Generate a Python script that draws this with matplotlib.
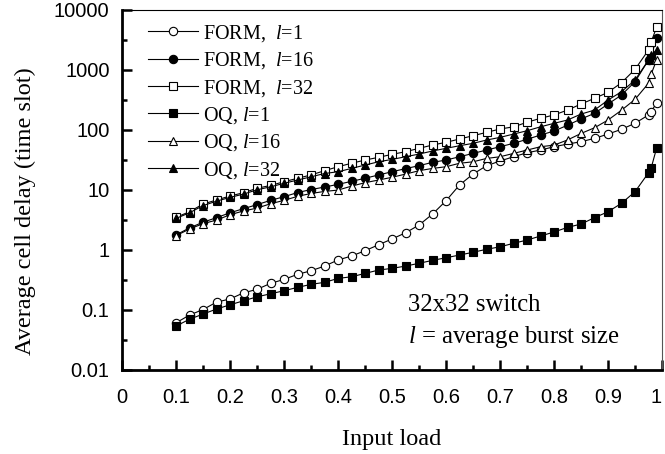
import numpy as np
import matplotlib
matplotlib.use("Agg")
import matplotlib.pyplot as plt
from matplotlib.ticker import FixedLocator, NullFormatter

plt.rcParams['font.family'] = ['Liberation Sans', 'DejaVu Sans']
plt.rcParams['mathtext.fontset'] = 'custom'
plt.rcParams['mathtext.rm'] = 'Liberation Serif'
plt.rcParams['mathtext.it'] = 'Liberation Serif:italic'

# input load values
load = [0.1, 0.125, 0.15, 0.175, 0.2, 0.225, 0.25, 0.275, 0.3, 0.325, 0.35, 0.375,
        0.4, 0.425, 0.45, 0.475, 0.5, 0.525, 0.55, 0.575, 0.6, 0.625, 0.65, 0.675,
        0.7, 0.725, 0.75, 0.775, 0.8, 0.825, 0.85, 0.875, 0.9, 0.925, 0.95,
        0.975, 0.98, 0.99]

form_l1 = [0.060, 0.081, 0.10, 0.133, 0.15, 0.19, 0.217, 0.273, 0.318, 0.386, 0.443, 0.53,
           0.67, 0.78, 0.955, 1.2, 1.5, 1.9, 2.56, 3.9, 6.5,
           11.9, 18.1, 24.9, 29.9, 35.2, 41, 45.5, 51.7, 57.3, 62.6, 71.3, 84, 101, 127,
           175, 198, 280]
form_l16 = [1.75, 2.3, 2.85, 3.4, 4.1, 4.8, 5.6, 6.6, 7.6, 8.9, 10.0, 11.0,
            12.2, 13.7, 15.4, 17.5, 19.8, 22.3, 25, 28.4, 31, 35.2, 40, 45.5,
            51.7, 58.9, 68.7, 81, 94.4, 118, 150, 186, 266, 376, 627,
            1440, 1680, 3310]
form_l32 = [3.44, 4.27, 5.73, 6.7, 7.8, 8.85, 10.5, 11.7, 13.5, 15.4, 17.5, 20.6,
            24, 27.4, 31, 34.4, 38.6, 42.7, 48.6, 55.2, 61.2, 69.5, 78.9, 89.7,
            102, 111, 132, 154, 175, 211, 266, 331, 417, 603, 1007,
            2113, 2904, 5047]
oq_l1 = [0.053, 0.069, 0.084, 0.102, 0.12, 0.14, 0.163, 0.183, 0.206, 0.234, 0.263, 0.284,
         0.33, 0.352, 0.40, 0.455, 0.486, 0.53, 0.59, 0.66, 0.73, 0.81, 0.90, 1.01,
         1.11, 1.27, 1.44, 1.68, 1.96, 2.34, 2.66, 3.4, 4.26, 5.9, 9.2,
         19, 23, 49]
oq_l16 = [1.7, 2.2, 2.7, 3.1, 3.8, 4.4, 4.9, 5.8, 6.6, 7.7, 8.6, 9.3,
          9.8, 11.4, 13, 14.4, 16, 18.1, 20.6, 22.5, 24, 27.4, 29, 33,
          35.2, 40, 45.5, 51.7, 55, 67, 86, 107, 144, 210, 318,
          590, 841, 1440]
oq_l32 = [3.3, 4.1, 5.4, 6.4, 7.4, 8.4, 9.9, 11.1, 12.7, 14.4, 16.3, 18.5,
          19.8, 22.5, 25.6, 29, 31.8, 35.2, 39, 43.9, 48.6, 53.7, 58.9, 66.8,
          74, 84, 95.5, 111, 127, 144, 181, 211, 310, 427, 668,
          1440, 1745, 2113]

series = [
    (form_l1, 'o', 'white', r'FORM,  $l$=1'),
    (form_l16, 'o', 'black', r'FORM,  $l$=16'),
    (form_l32, 's', 'white', r'FORM,  $l$=32'),
    (oq_l1, 's', 'black', r'OQ, $l$=1'),
    (oq_l16, '^', 'white', r'OQ, $l$=16'),
    (oq_l32, '^', 'black', r'OQ, $l$=32'),
]

fig = plt.figure(figsize=(6.65, 4.54), dpi=100)
ax = fig.add_axes([0.1835, 0.186, 0.812, 0.793])

for vals, mk, fc, lab in series:
    ax.plot(load, vals, color='black', lw=0.8, marker=mk, markersize=6,
            markerfacecolor=fc, markeredgecolor='black', markeredgewidth=0.8,
            label=lab)

ax.set_yscale('log')
ax.set_ylim(0.01, 10000)
ax.set_xlim(0, 1)

yt = [0.01, 0.1, 1, 10, 100, 1000, 10000]
ax.yaxis.set_major_locator(FixedLocator(yt))
ax.set_yticklabels(['0.01', '0.1', '1', '10', '100', '1000', '10000'])
ax.yaxis.set_minor_locator(FixedLocator([10 ** (k + 0.5) for k in range(-2, 4)]))
ax.yaxis.set_minor_formatter(NullFormatter())

ax.set_xticks(np.arange(0, 1.01, 0.1))
ax.set_xticklabels(['0', '0.1', '0.2', '0.3', '0.4', '0.5', '0.6', '0.7', '0.8', '0.9', '1'])
ax.xaxis.set_minor_locator(FixedLocator(np.arange(0.05, 1.0, 0.1)))

ax.tick_params(which='major', direction='in', length=7, width=1.8, labelsize=14.5)
ax.tick_params(which='minor', direction='in', length=3.5, width=1.8)
ax.tick_params(axis='x', pad=13)
ax.tick_params(axis='y', pad=9)
ax.get_xticklabels()[-1].set_horizontalalignment('right')

ax.spines['left'].set_linewidth(2)
ax.spines['bottom'].set_linewidth(2)
ax.spines['top'].set_linewidth(0.8)
ax.spines['right'].set_linewidth(0.8)
ax.spines['right'].set_color('#555555')

ax.set_ylabel('Average cell delay (time slot)', family='Liberation Serif',
              fontsize=17.5, labelpad=1)
ax.yaxis.set_label_coords(-0.16, 0.44)
ax.set_xlabel('Input load', family='Liberation Serif', fontsize=17.5, labelpad=16)

leg = ax.legend(loc='upper left', bbox_to_anchor=(0.033, 0.985), frameon=False,
                prop={'family': 'Liberation Serif', 'size': 14.5},
                handlelength=2.5, handletextpad=0.25, labelspacing=0.32,
                borderaxespad=0)

ax.text(0.53, 0.18, '32x32 switch', transform=ax.transAxes,
        family='Liberation Serif', fontsize=17.8, va='center')
ax.text(0.53, 0.09, r'$l$ = average burst size', transform=ax.transAxes,
        family='Liberation Serif', fontsize=17.8, va='center')

fig.savefig('out.png', dpi=100)
